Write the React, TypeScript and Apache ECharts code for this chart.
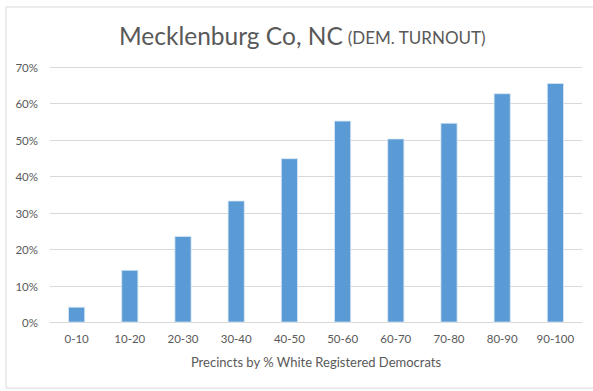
import React, { useEffect, useRef } from "react";
import * as echarts from "echarts";

const categories = ["0-10", "10-20", "20-30", "30-40", "40-50", "50-60", "60-70", "70-80", "80-90", "90-100"];
const turnout = [4.3, 14.4, 23.7, 33.4, 45.0, 55.3, 50.4, 54.7, 62.8, 65.6];
const yTicks = { min: 0, max: 70, interval: 10 };

const FONT = "Lato, 'Open Sans', sans-serif";

export default function App() {
  const ref = useRef<HTMLDivElement>(null);
  useEffect(() => {
    if (!ref.current) return;
    const chart = echarts.init(ref.current, null, { renderer: "svg" });
    chart.setOption({
      animation: false,
      backgroundColor: "#ffffff",
      title: {
        text: "{a|Mecklenburg Co, NC} {b|(DEM. TURNOUT)}",
        left: 114,
        top: 13,
        textStyle: {
          rich: {
            a: { fontFamily: FONT, fontSize: 24.5, fontWeight: "normal", color: "#595959", lineHeight: 30, verticalAlign: "bottom" },
            b: { fontFamily: FONT, fontSize: 17, fontWeight: "normal", color: "#595959", lineHeight: 22, verticalAlign: "bottom", padding: [0, 0, 2, 0] },
          },
        },
      },
      graphic: [
        {
          type: "rect",
          shape: { x: 6, y: 7, width: 600, height: 381 },
          style: { fill: "none", stroke: "#d9d9d9", lineWidth: 1 },
          silent: true,
        },
      ],
      grid: { left: 50, right: 11, top: 67, bottom: 68.5, containLabel: false },
      xAxis: {
        type: "category",
        data: categories,
        axisTick: { show: false },
        axisLine: { lineStyle: { color: "#d9d9d9", width: 1 } },
        axisLabel: { fontFamily: FONT, fontSize: 11.5, color: "#595959", margin: 10 },
        name: "Precincts by % White Registered Democrats",
        nameLocation: "middle",
        nameGap: 33,
        nameTextStyle: { fontFamily: FONT, fontSize: 13, color: "#595959" },
      },
      yAxis: {
        type: "value",
        min: yTicks.min,
        max: yTicks.max,
        interval: yTicks.interval,
        axisLine: { show: false },
        axisTick: { show: false },
        splitLine: { lineStyle: { color: "#d9d9d9", width: 1 } },
        axisLabel: { fontFamily: FONT, fontSize: 11.5, color: "#595959", margin: 12, formatter: "{value}%" },
      },
      series: [
        {
          type: "bar",
          data: turnout,
          barWidth: 17,
          itemStyle: { color: "#5B9BD5", borderColor: "#dbe8f5", borderWidth: 0.8 },
        },
      ],
    });
    return () => chart.dispose();
  }, []);
  return <div ref={ref} style={{ position: "fixed", left: 0, top: 0, width: 593, height: 391 }} />;
}
